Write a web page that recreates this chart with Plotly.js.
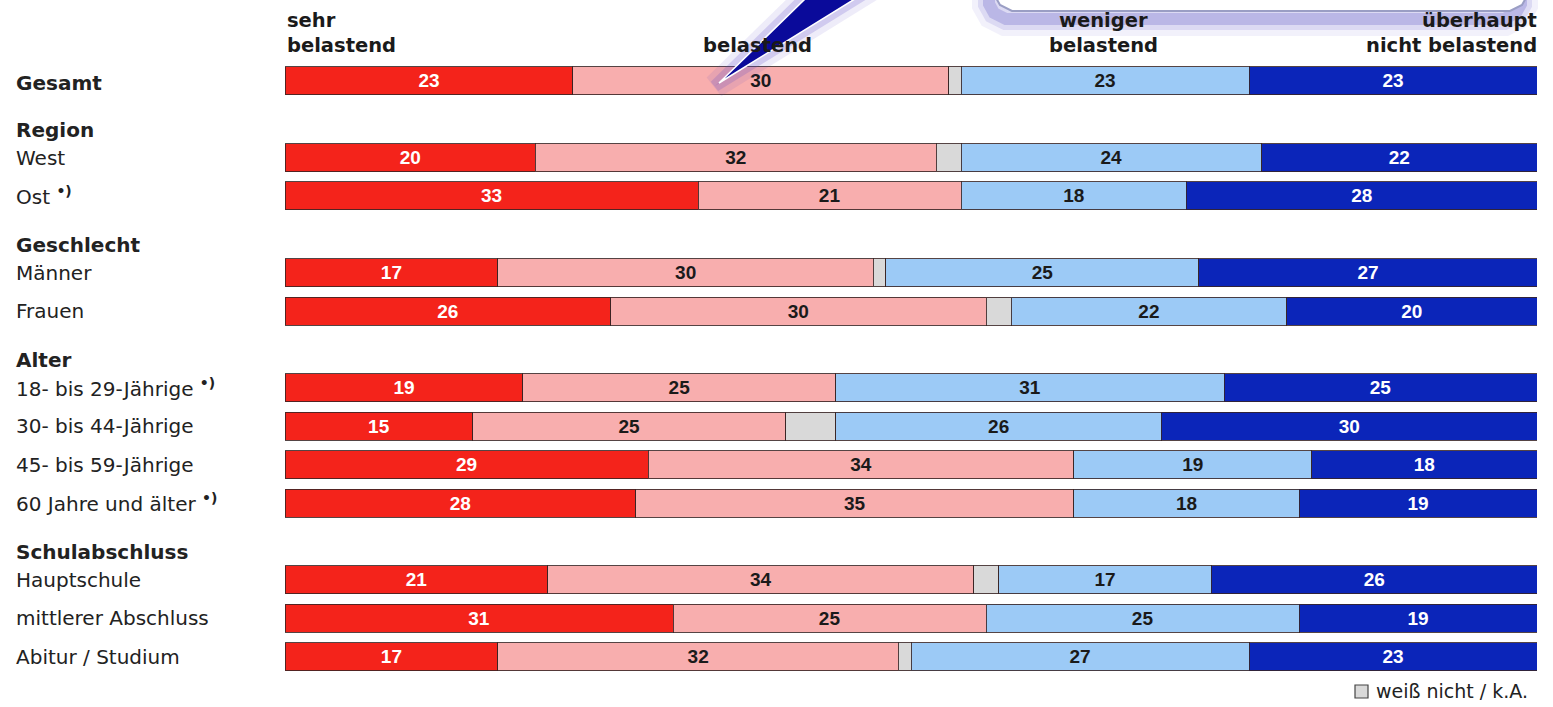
<!DOCTYPE html>
<html>
<head>
<meta charset="utf-8">
<script src="https://cdn.plot.ly/plotly-3.0.1.min.js"></script>
<style>html,body{margin:0;padding:0;background:#fff;}#chart{width:1553px;height:707px;}</style>
</head>
<body>
<div id="chart"></div>
<script>
// ---- data ----
const groupHeaders = [null, 'Region', 'Geschlecht', 'Alter', 'Schulabschluss'];
const groupSizes = [1, 2, 2, 4, 3];
const categories = ['Gesamt', 'West', 'Ost *)', 'Männer', 'Frauen',
  '18- bis 29-Jährige *)', '30- bis 44-Jährige', '45- bis 59-Jährige', '60 Jahre und älter *)',
  'Hauptschule', 'mittlerer Abschluss', 'Abitur / Studium'];
const seriesNames = ['sehr belastend', 'belastend', 'weiß nicht / k.A.', 'weniger belastend', 'überhaupt nicht belastend'];
const sehr       = [23, 20, 33, 17, 26, 19, 15, 29, 28, 21, 31, 17];
const belastend  = [30, 32, 21, 30, 30, 25, 25, 34, 35, 34, 25, 32];
const weissNicht = [1, 2, 0, 1, 2, 0, 4, 0, 0, 2, 0, 1];
const weniger    = [23, 24, 18, 25, 22, 31, 26, 19, 18, 17, 25, 27];
const ueberhaupt = [23, 22, 28, 27, 20, 25, 30, 18, 19, 26, 19, 23];
const legendText = 'weiß nicht / k.A.';

// ---- layout helpers ----
const W = 1553, H = 707;
const M = {l: 285, r: 16, t: 4, b: 12};
const PW = W - M.l - M.r, PH = H - M.t - M.b;
const px = x => (x - M.l) / PW;
const py = y => 1 - (y - M.t) / PH;

// slot positions
const ySlots = [];
const headerSlots = [];
let s = 0;
groupSizes.forEach((n, g) => {
  if (groupHeaders[g]) { headerSlots.push(s); s++; }
  for (let i = 0; i < n; i++) { ySlots.push(s); s++; }
});

const colors = ['#f4231b', '#f8aeae', '#d9d9d9', '#9ccaf6', '#0b25b9'];
const textColors = ['#ffffff', '#1a1a1a', '#1a1a1a', '#1a1a1a', '#ffffff'];
const allSeries = [sehr, belastend, weissNicht, weniger, ueberhaupt];

const traces = allSeries.map((vals, i) => {
  const isGray = i === 2;
  const t = {
    type: 'bar', orientation: 'h', name: seriesNames[i],
    x: vals.map(v => (v === 0 ? null : v)), y: ySlots, width: 0.73,
    marker: {color: colors[i], line: {color: 'rgba(55,35,35,0.85)', width: 1}},
    hoverinfo: 'x+name', showlegend: false
  };
  if (!isGray) {
    t.text = vals.map(String);
    t.textposition = 'inside';
    t.insidetextanchor = 'middle';
    t.textangle = 0;
    t.textfont = {family: 'Liberation Sans, Arial, sans-serif', size: 19, color: textColors[i], weight: 'bold'};
  } else {
    t.textposition = 'none';
  }
  return t;
});

const labelFont = {family: 'DejaVu Sans, sans-serif', size: 20, color: '#222'};
const annotations = [];
categories.forEach((c, i) => {
  let txt = c.replace(' *)', ' <sup><b>•)</b></sup>');
  if (c === 'Gesamt') txt = '<b>' + c + '</b>';
  annotations.push({xref: 'paper', yref: 'y', x: px(14), y: ySlots[i] + (c === 'Gesamt' ? 0.05 : 0),
    xanchor: 'left', yanchor: 'middle', text: txt, showarrow: false, font: labelFont});
});
groupHeaders.filter(h => h).forEach((h, i) => {
  annotations.push({xref: 'paper', yref: 'y', x: px(14), y: headerSlots[i] + 0.28,
    xanchor: 'left', yanchor: 'middle', text: '<b>' + h + '</b>', showarrow: false, font: labelFont});
});
// column headers
const hFont = {family: 'DejaVu Sans, sans-serif', size: 19.5, color: '#1a1a1a'};
const colHead = [
  {lines: ['sehr', 'belastend'], x: 285, anchor: 'left'},
  {lines: [null, 'belastend'], x: 757, anchor: 'center'},
  {lines: ['weniger', 'belastend'], x: 1103, anchor: 'center'},
  {lines: ['überhaupt', 'nicht belastend'], x: 1539, anchor: 'right'}
];
colHead.forEach(h => {
  h.lines.forEach((ln, k) => {
    if (!ln) return;
    annotations.push({xref: 'paper', yref: 'paper', x: px(h.x), y: py(k === 0 ? 21 : 45),
      xanchor: h.anchor, yanchor: 'middle', text: '<b>' + ln + '</b>', showarrow: false, font: hFont});
  });
});
// legend text
annotations.push({xref: 'paper', yref: 'paper', x: px(1374), y: py(691), xanchor: 'left', yanchor: 'middle',
  text: legendText, showarrow: false, font: {family: 'DejaVu Sans, sans-serif', size: 19, color: '#222'}});

// shapes: legend swatch + callout overlay
function pathFrom(pts, close) {
  return pts.map((p, i) => (i ? 'L' : 'M') + px(p[0]).toFixed(5) + ',' + py(p[1]).toFixed(5)).join(' ') + (close ? ' Z' : '');
}
const shapes = [];
shapes.push({type: 'rect', xref: 'paper', yref: 'paper', x0: px(1355), x1: px(1368), y0: py(698), y1: py(685),
  fillcolor: '#d9d9d9', line: {color: '#444', width: 1.2}});
// callout box glow
const boxPts = [[995, -20], [995, -4], [1000, 5], [1012, 11], [1510, 11], [1522, 5], [1527, -4], [1527, -20]];
[[34, 'rgba(90,80,200,0.08)'], [22, 'rgba(90,80,200,0.14)'], [12, 'rgba(80,70,190,0.24)']].forEach(g => {
  shapes.push({type: 'path', xref: 'paper', yref: 'paper', path: pathFrom(boxPts.map(p => [p[0] - 6, p[1] + 8]), false),
    line: {color: g[1], width: g[0]}, layer: 'above'});
});
shapes.push({type: 'path', xref: 'paper', yref: 'paper', path: pathFrom(boxPts, true),
  fillcolor: '#ffffff', line: {color: '#9a9ec4', width: 2}, layer: 'above'});
// pointer
const ptr = [[719, 83], [807, -3], [858, -3]];
[[24, 'rgba(90,70,200,0.10)'], [12, 'rgba(90,70,200,0.2)']].forEach(g => {
  shapes.push({type: 'path', xref: 'paper', yref: 'paper', path: pathFrom(ptr.map(p => [p[0] - 4, p[1] + 3]), true),
    fillcolor: 'rgba(90,70,200,0.08)', line: {color: g[1], width: g[0]}, layer: 'above'});
});
shapes.push({type: 'path', xref: 'paper', yref: 'paper', path: pathFrom(ptr, true),
  fillcolor: '#0a0a9a', line: {color: '#ffffff', width: 1.6}, layer: 'above'});

const layout = {
  width: W, height: H,
  margin: M,
  paper_bgcolor: '#ffffff', plot_bgcolor: '#ffffff',
  barmode: 'stack', bargap: 0,
  showlegend: false,
  xaxis: {range: [0, 100], showgrid: false, zeroline: false, showticklabels: false, showline: false, fixedrange: true},
  yaxis: {range: [16, -2], showgrid: false, zeroline: false, showticklabels: false, showline: false, fixedrange: true},
  annotations: annotations,
  shapes: shapes
};
Plotly.newPlot('chart', traces, layout, {displayModeBar: false, staticPlot: true});
</script>
</body>
</html>
